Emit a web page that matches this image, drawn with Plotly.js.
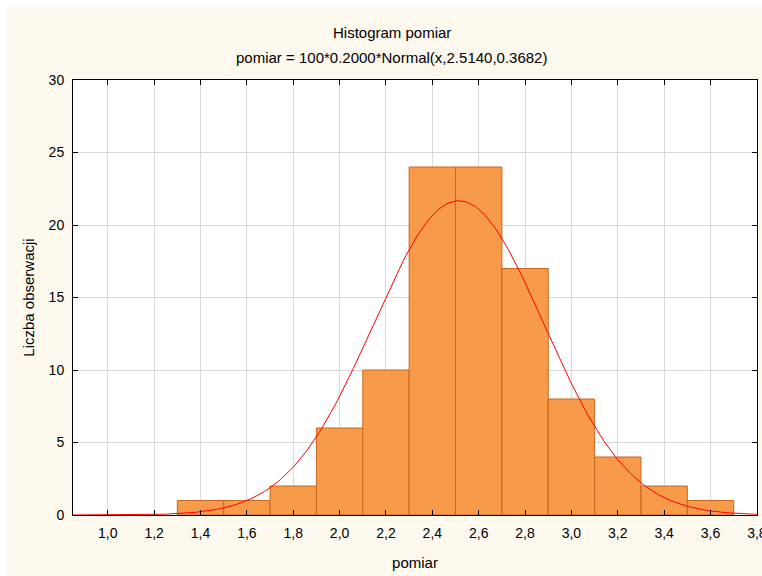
<!DOCTYPE html>
<html>
<head>
<meta charset="utf-8">
<script src="https://cdn.plot.ly/plotly-3.0.1.min.js"></script>
<style>
html,body{margin:0;padding:0;background:#ffffff;}
#wrap{position:absolute;left:7px;top:7px;width:755px;height:569px;background:#fdf9ef;}
#chart{width:755px;height:569px;}
</style>
</head>
<body>
<div id="wrap"><div id="chart"></div></div>
<script>
// Histogram bins (centres) and counts
const binCenters = [1.4, 1.6, 1.8, 2.0, 2.2, 2.4, 2.6, 2.8, 3.0, 3.2, 3.4, 3.6];
const counts     = [1,   1,   2,   6,   10,  24,  24,  17,  8,   4,   2,   1];
const binWidth = 0.2;
// Fitted normal curve parameters from the subtitle
const nObs = 100, fitMean = 2.5140, fitSd = 0.3682;
const xTickVals = [1.0,1.2,1.4,1.6,1.8,2.0,2.2,2.4,2.6,2.8,3.0,3.2,3.4,3.6,3.8];
const xTickText = ['1,0','1,2','1,4','1,6','1,8','2,0','2,2','2,4','2,6','2,8','3,0','3,2','3,4','3,6','3,8'];
const yTickVals = [0,5,10,15,20,25,30];

const curveX = [], curveY = [];
for (let i = 0; i <= 300; i++) {
  const x = 0.85 + (3.8 - 0.85) * i / 300;
  curveX.push(x);
  curveY.push(nObs * binWidth * Math.exp(-0.5 * Math.pow((x - fitMean) / fitSd, 2)) / (fitSd * Math.sqrt(2 * Math.PI)));
}

const font = {family: 'Arial, "Liberation Sans", sans-serif', size: 14, color: '#000'};
const tfont = {family: 'Arial, "Liberation Sans", sans-serif', size: 15, color: '#000'};

const data = [
  {type: 'bar', x: binCenters, y: counts, width: binWidth,
   marker: {color: '#f79a4a', line: {color: '#c4691f', width: 1}},
   hoverinfo: 'x+y', showlegend: false},
  {type: 'scatter', mode: 'lines', x: curveX, y: curveY,
   line: {color: '#ff0000', width: 1}, showlegend: false, hoverinfo: 'skip'}
];

const layout = {
  width: 755, height: 569,
  paper_bgcolor: '#fdf9ef', plot_bgcolor: '#ffffff',
  margin: {l: 66, r: 5, t: 73, b: 61},
  font: font,
  bargap: 0,
  xaxis: {range: [0.85, 3.8005], tickvals: xTickVals, ticktext: xTickText,
          ticks: 'inside', ticklen: 5, tickcolor: '#000', mirror: 'ticks',
          showline: true, linecolor: '#000', linewidth: 1,
          showgrid: true, gridcolor: '#d9d9d9', zeroline: false,
          tickfont: font, ticklabelstandoff: 5, ticklabeloverflow: 'allow',
          title: {text: 'pomiar', font: tfont, standoff: 17}},
  yaxis: {range: [0, 30], tickvals: yTickVals,
          ticks: 'inside', ticklen: 5, tickcolor: '#000', mirror: 'ticks',
          showline: true, linecolor: '#000', linewidth: 1,
          showgrid: true, gridcolor: '#d9d9d9', zeroline: false,
          tickfont: font, ticklabelstandoff: 5,
          title: {text: 'Liczba obserwacji', font: tfont, standoff: 10}},
  annotations: [
    {text: 'Histogram pomiar', xref: 'paper', yref: 'paper', x: 0.466, y: 1, yshift: 48,
     showarrow: false, font: tfont, xanchor: 'center', yanchor: 'middle'},
    {text: 'pomiar = 100*0.2000*Normal(x,2.5140,0.3682)', xref: 'paper', yref: 'paper', x: 0.466, y: 1, yshift: 23,
     showarrow: false, font: tfont, xanchor: 'center', yanchor: 'middle'}
  ]
};

Plotly.newPlot('chart', data, layout, {displayModeBar: false, staticPlot: true});
</script>
</body>
</html>
